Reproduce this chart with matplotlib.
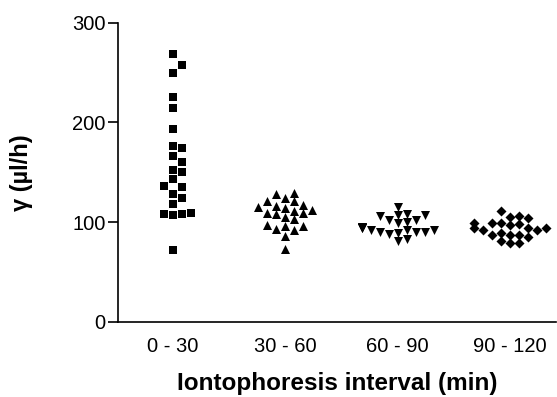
import numpy as np
import matplotlib
matplotlib.use("Agg")
import matplotlib.pyplot as plt

plt.rcParams['font.family'] = ['Liberation Sans', 'DejaVu Sans']

groups = ['0 - 30', '30 - 60', '60 - 90', '90 - 120']
markers = ['s', '^', 'v', 'D']
sizes = [34, 42, 42, 26]
gaps = [9.0, 8.0, 8.0, 8.0]

g1 = [269, 258, 250, 225, 214, 193, 176, 174, 166, 160, 152, 150, 143,
      135, 136, 128, 124, 118, 109, 108, 107, 108, 72]
g2 = [129, 128, 124, 121, 121, 117, 116, 114, 115, 111, 112, 109, 108,
      109, 105, 103, 97, 96, 96, 92, 93, 86, 73]
g3 = [115, 108, 107, 106, 107, 102, 100, 102, 99, 94, 95, 95, 92, 92,
      92, 94, 90, 90, 90, 88, 89, 81, 83]
g4 = [111, 106, 104, 105, 97, 99, 99, 99, 98, 94, 92, 92, 94, 94, 87,
      87, 89, 87, 85, 81, 79, 79]
data = [g1, g2, g3, g4]


def swarm(vals, diam, step=0.08, px_x=112.0, px_y=1.0):
    # simple column scatter: put each point at the nearest free slot
    order = np.argsort(vals)
    offs = np.zeros(len(vals))
    placed = []
    for i in order:
        y = vals[i] * px_y
        for k in [0, 1, -1, 2, -2, 3, -3, 4, -4]:
            dx = k * step
            ok = all((dx - pdx) ** 2 * px_x ** 2 + (y - py) ** 2 >= diam ** 2
                     for pdx, py in placed)
            if ok:
                break
        offs[i] = dx
        placed.append((dx, y))
    return offs


fig = plt.figure(figsize=(5.57, 3.97), dpi=100)
ax = fig.add_axes([0.212, 0.189, 0.786, 0.754])

for i, vals in enumerate(data):
    x = i + swarm(vals, gaps[i])
    ax.scatter(x, vals, marker=markers[i], s=sizes[i], color='k',
               linewidths=0, zorder=3)

ax.set_xlim(-0.49, 3.41)
ax.set_ylim(0, 300)
ax.set_yticks([0, 100, 200, 300])
ax.set_xticks(range(4))
ax.set_xticklabels(groups)
ax.tick_params(axis='x', length=0, pad=11, labelsize=14.5)
ax.tick_params(axis='y', length=7, width=1.2, labelsize=14.5, pad=2)
ax.spines['top'].set_visible(False)
ax.spines['right'].set_visible(False)
ax.spines['left'].set_linewidth(1.2)
ax.spines['bottom'].set_linewidth(1.2)

ax.set_xlabel('Iontophoresis interval (min)', fontsize=17.5,
              fontweight='bold', labelpad=11)
ax.set_ylabel('γ (µl/h)', fontsize=17, fontweight='bold', labelpad=28)

fig.savefig('out.png', dpi=100)
